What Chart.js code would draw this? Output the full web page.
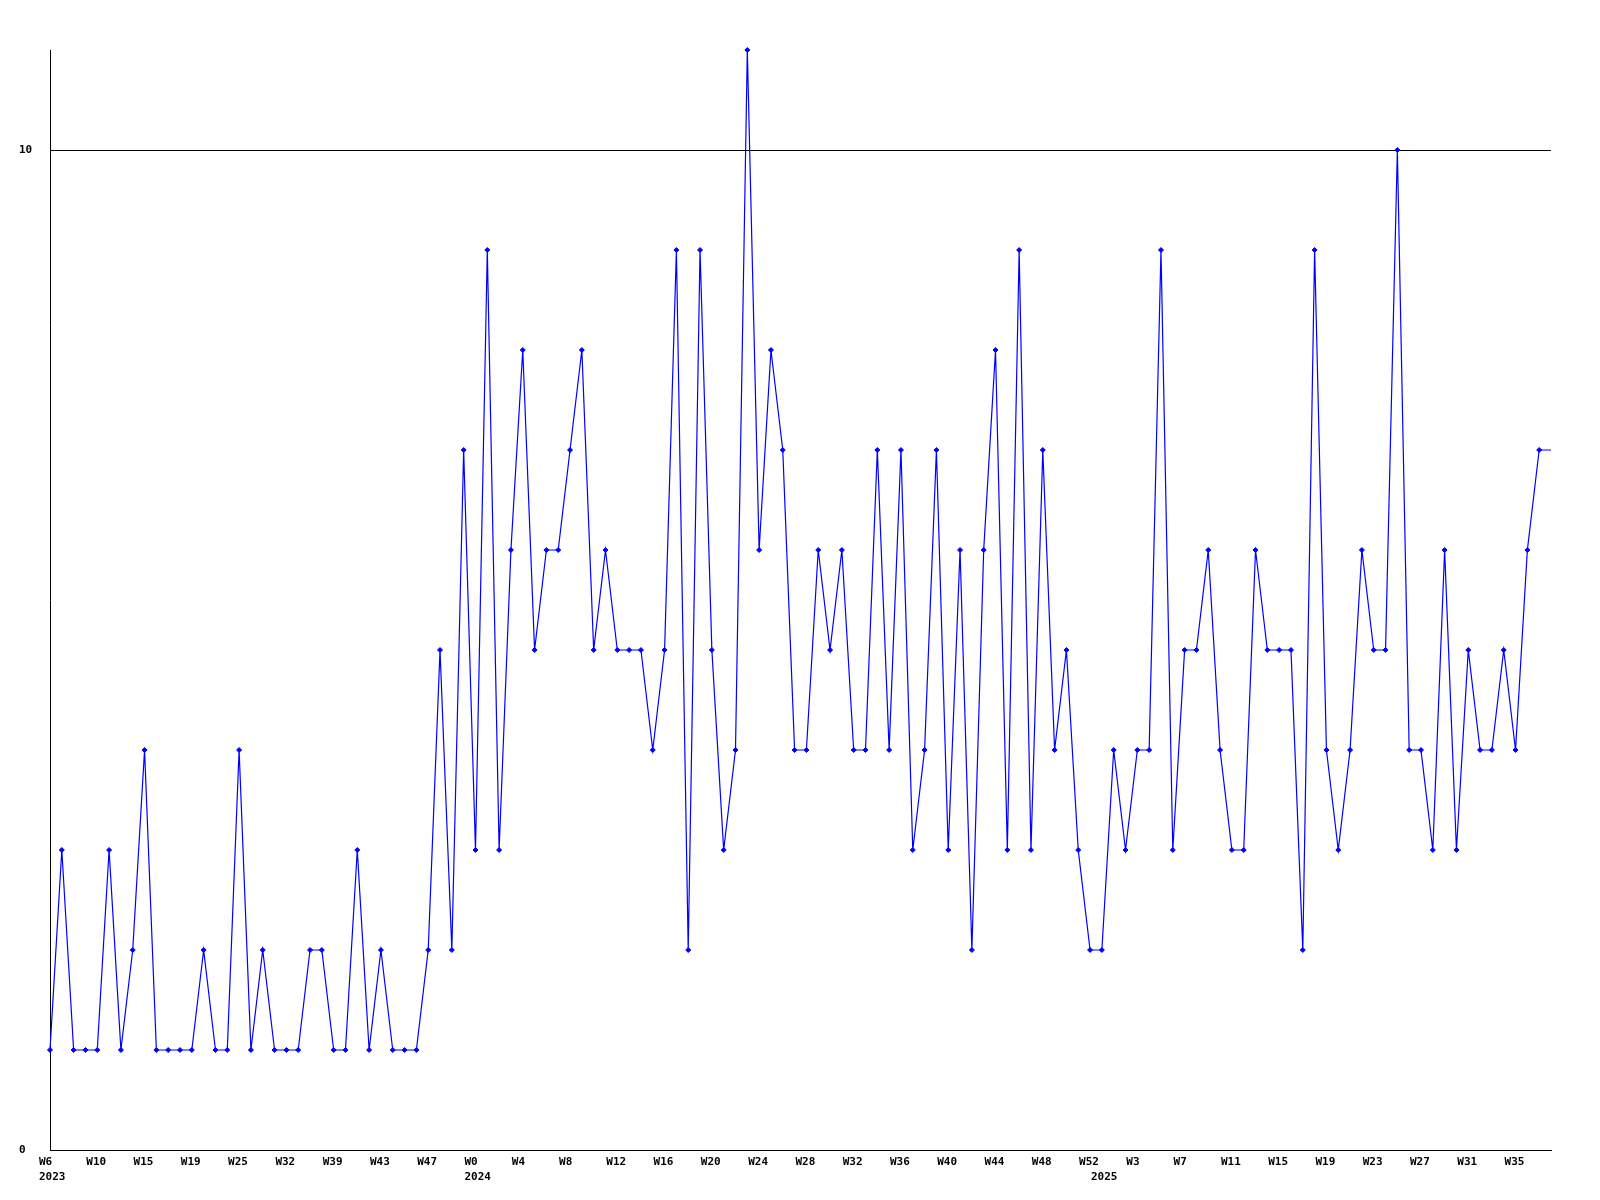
<!DOCTYPE html>
<html>
<head>
<meta charset="utf-8">
<script src="https://cdn.jsdelivr.net/npm/chart.js@4"></script>
<style>
  body { margin: 0; background: #fff; }
</style>
</head>
<body>
<canvas id="weekly" width="1600" height="1200"></canvas>
<script>
  // weekly counts, one value per plotted week
  const values2023 = [1, 3, 1, 1, 1, 3, 1, 2, 4, 1, 1, 1, 1, 2, 1, 1, 4, 1, 2, 1, 1, 1, 2, 2, 1, 1, 3, 1, 2, 1, 1, 1, 2, 5, 2, 7];
  const values2024 = [3, 9, 3, 6, 8, 5, 6, 6, 7, 8, 5, 6, 5, 5, 5, 4, 5, 9, 2, 9, 5, 3, 4, 11, 6, 8, 7, 4, 4, 6, 5, 6, 4, 4, 7, 4, 7, 3, 4, 7, 3, 6, 2, 6, 8, 3, 9, 3, 7, 4, 5, 3, 2];
  const values2025 = [2, 4, 3, 4, 4, 9, 3, 5, 5, 6, 4, 3, 3, 6, 5, 5, 5, 2, 9, 4, 3, 4, 6, 5, 5, 10, 4, 4, 3, 6, 3, 5, 4, 4, 5, 4, 6, 7, 7];

  // a week label on every 4th point
  const weekTicks = [
    'W6', 'W10', 'W15', 'W19', 'W25', 'W32', 'W39', 'W43', 'W47',
    'W0', 'W4', 'W8', 'W12', 'W16', 'W20', 'W24', 'W28', 'W32', 'W36', 'W40', 'W44', 'W48', 'W52',
    'W3', 'W7', 'W11', 'W15', 'W19', 'W23', 'W27', 'W31', 'W35'
  ];
  const years = ['2023', '2024', '2025'];
  const yValueTicks = [0, 10];

  const values = values2023.concat(values2024, values2025);
  const yearStart = [0, values2023.length, values2023.length + values2024.length];

  const labels = values.map(function (v, i) {
    const lines = [i % 4 === 0 ? (weekTicks[i / 4] || '') : ''];
    const y = yearStart.indexOf(i);
    if (y >= 0) lines.push(years[y]);
    return lines;
  });

  const tickFont = { family: '"DejaVu Sans Mono", monospace', size: 11, weight: 'bold', lineHeight: 1.4 };

  const config = {
    type: 'line',
    data: {
      labels: labels,
      datasets: [{
        data: values,
        borderColor: '#0000ff',
        backgroundColor: '#0000ff',
        borderWidth: 1.2,
        tension: 0,
        clip: false,
        pointStyle: 'rectRot',
        pointRadius: function (ctx) { return ctx.dataIndex === values.length - 1 ? 0 : 2.5; },
        pointBorderWidth: 1
      }]
    },
    options: {
      responsive: false,
      animation: false,
      layout: { padding: { top: 50, left: 19, right: 49, bottom: 0 } },
      plugins: { legend: { display: false }, tooltip: { enabled: false } },
      scales: {
        x: {
          grid: { display: false, drawTicks: false },
          border: { display: true, color: '#000', width: 1 },
          afterFit: function (scale) { scale.height = 50; },
          ticks: {
            autoSkip: false,
            maxRotation: 0,
            minRotation: 0,
            align: 'start',
            labelOffset: -11,
            padding: 4,
            color: '#000',
            font: tickFont
          }
        },
        y: {
          min: 0,
          max: 11,
          afterBuildTicks: function (scale) {
            scale.ticks = yValueTicks.map(function (v) { return { value: v }; });
          },
          afterFit: function (scale) { scale.width = 31; },
          grid: { color: '#000', lineWidth: 1, drawTicks: false },
          border: { display: true, color: '#000', width: 1 },
          ticks: {
            crossAlign: 'far',
            padding: 0,
            color: '#000',
            font: tickFont
          }
        }
      }
    }
  };

  const weeklyChart = new Chart(document.getElementById('weekly'), config);
</script>
</body>
</html>
